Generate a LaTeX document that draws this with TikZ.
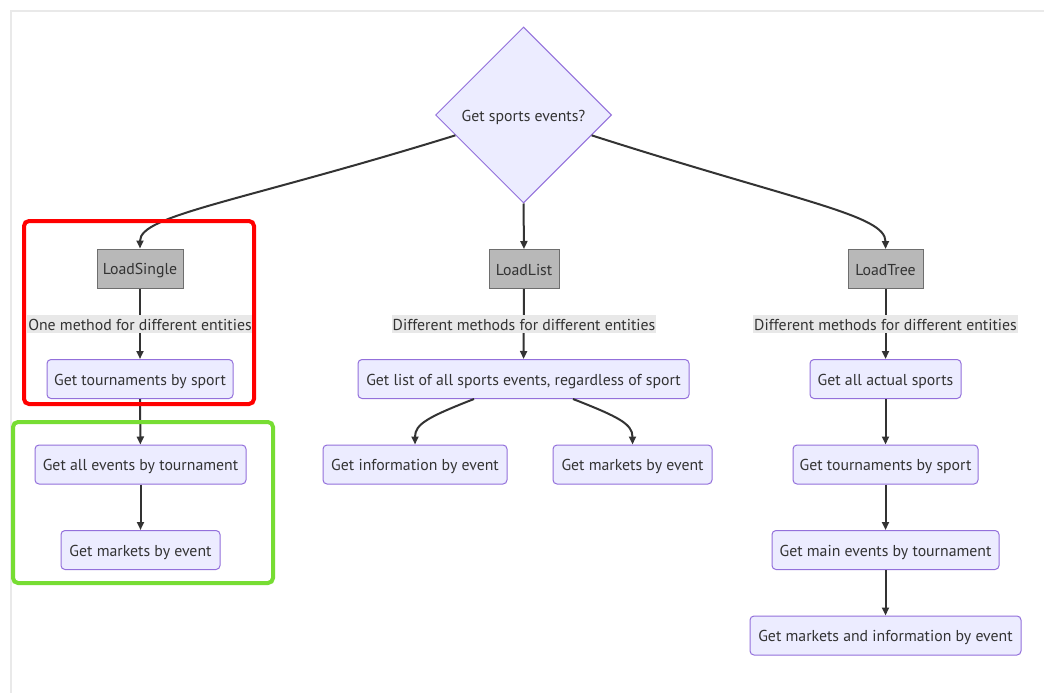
\documentclass[tikz,border=0pt]{standalone}
\usepackage{fontspec}
\setmainfont{PT Sans}
\usetikzlibrary{shapes.geometric,arrows.meta,calc}
\definecolor{nodefill}{HTML}{ECECFF}
\definecolor{nodeline}{HTML}{9370DB}
\definecolor{txt}{HTML}{333333}
\definecolor{grayfill}{HTML}{B8B8B8}
\definecolor{grayline}{HTML}{6E6E6E}
\definecolor{lblfill}{HTML}{E8E8E8}
\definecolor{frameline}{HTML}{E9E9E9}
\definecolor{redbox}{HTML}{FF0000}
\definecolor{greenbox}{HTML}{77DD33}
\tikzset{
  base/.style={font=\fontsize{15.8}{18}\selectfont, text=txt, inner sep=0pt, align=center, text height=13.5pt, text depth=1.5pt},
  proc/.style={base, draw=nodeline, fill=nodefill, line width=1pt, rounded corners=4pt, minimum height=39pt},
  loadbox/.style={base, draw=grayline, fill=grayfill, line width=1pt, minimum height=39pt},
  decision/.style={base, diamond, aspect=1, draw=nodeline, fill=nodefill, line width=1pt, minimum size=176pt},
  elabel/.style={base, fill=lblfill, minimum height=18pt, inner xsep=1pt},
  arr/.style={draw=txt, line width=2pt, -{Triangle[length=8pt,width=7pt]}},
  hilite/.style={line width=4pt, rounded corners=5pt},
}
\begin{document}
\begin{tikzpicture}[x=1pt,y=-1pt]
\useasboundingbox (0,0) rectangle (1044,693);
\fill[white] (0,0) rectangle (1044,693);
\draw[frameline, line width=2pt] (10.5,693) -- (10.5,11.5) -- (1044,11.5);

\node[decision] (d) at (523.5,115) {Get sports events?};

\node[loadbox, minimum width=86pt] (ls) at (140,268.5) {LoadSingle};
\node[loadbox, minimum width=70pt] (ll) at (524,269) {LoadList};
\node[loadbox, minimum width=75pt] (lt) at (885.5,269) {LoadTree};

\node[proc, minimum width=186pt] (ts1) at (140,379) {Get tournaments by sport};
\node[proc, minimum width=211pt] (ae) at (140.5,464.5) {Get all events by tournament};
\node[proc, minimum width=159pt] (me1) at (140.5,550) {Get markets by event};

\node[proc, minimum width=331pt] (gl) at (523.5,379) {Get list of all sports events, regardless of sport};
\node[proc, minimum width=184pt] (ie) at (415,464.5) {Get information by event};
\node[proc, minimum width=159pt] (me2) at (632.5,464.5) {Get markets by event};

\node[proc, minimum width=151pt] (as) at (885.5,379) {Get all actual sports};
\node[proc, minimum width=185pt] (ts2) at (885.5,464.5) {Get tournaments by sport};
\node[proc, minimum width=227pt] (mt) at (885.5,550) {Get main events by tournament};
\node[proc, minimum width=271pt] (mi) at (885.5,635.5) {Get markets and information by event};

% connectors
\coordinate (sl) at ($(d.west)!0.23!(d.south)$);
\coordinate (sr) at ($(d.east)!0.23!(d.south)$);
\draw[arr] (sl) .. controls (240,202) and (140,215) .. (ls.north);
\draw[arr] (sr) .. controls (800,202) and (885.5,215) .. (lt.north);
\draw[arr] (d.south) -- (ll.north);

\draw[arr] (ls) -- (ts1);
\draw[arr] (ts1) -- (ae);
\draw[arr] (ae) -- (me1);

\draw[arr] (ll) -- (gl);
\coordinate (gla) at ($(gl.south)+(-49.5,0)$);
\coordinate (glb) at ($(gl.south)+(49.5,0)$);
\draw[arr] (gla) .. controls (428,417) and (415,424) .. (ie.north);
\draw[arr] (glb) .. controls (619,417) and (632.5,424) .. (me2.north);

\draw[arr] (lt) -- (as);
\draw[arr] (as) -- (ts2);
\draw[arr] (ts2) -- (mt);
\draw[arr] (mt) -- (mi);

% edge labels
\node[elabel] (lab1) at (140,324) {One method for different entities};
\node[elabel] (lab2) at (524,324) {Different methods for different entities};
\node[elabel] (lab3) at (885.5,324) {Different methods for different entities};

% highlight boxes
\draw[redbox, hilite] (24,221) rectangle (254,404);
\draw[greenbox, hilite] (13,422) rectangle (273,583);
\end{tikzpicture}
\end{document}
